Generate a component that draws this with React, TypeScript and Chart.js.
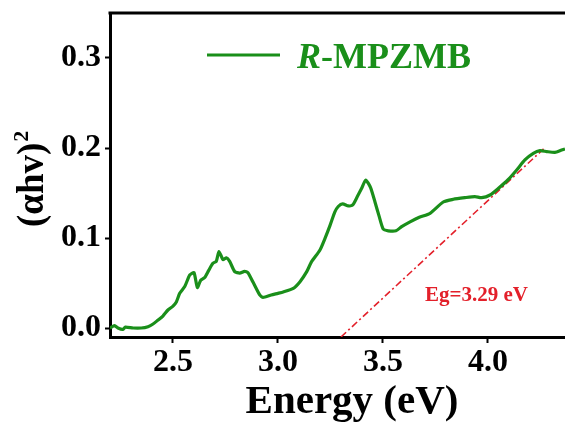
import React, { useEffect, useRef } from "react";
import { Chart, registerables } from "chart.js";

Chart.register(...registerables);

const energy = [
  2.2, 2.222, 2.238, 2.262, 2.273, 2.31, 2.349, 2.381, 2.405, 2.429,
  2.452, 2.476, 2.5, 2.516, 2.532, 2.556, 2.58, 2.6, 2.616, 2.632,
  2.651, 2.67, 2.69, 2.706, 2.719, 2.738, 2.754, 2.77, 2.794, 2.818,
  2.841, 2.857, 2.881, 2.913, 2.929, 2.968, 3.0, 3.025, 3.073, 3.105,
  3.137, 3.16, 3.2, 3.224, 3.248, 3.271, 3.287, 3.308, 3.335, 3.356,
  3.378, 3.398, 3.418, 3.441, 3.462, 3.482, 3.501, 3.525, 3.562, 3.589,
  3.629, 3.673, 3.724, 3.787, 3.835, 3.89, 3.938, 3.97, 4.01, 4.049,
  4.097, 4.137, 4.176, 4.216, 4.248, 4.28, 4.319, 4.351, 4.367,
];
const absorb = [
  0.0, 0.0026, 0.0, -0.0015, 0.001, 0.0, 0.0, 0.0015, 0.0044, 0.0089,
  0.0133, 0.02, 0.0244, 0.029, 0.0385, 0.046, 0.059, 0.0615, 0.045, 0.053,
  0.056, 0.064, 0.072, 0.074, 0.085, 0.076, 0.078, 0.074, 0.0626, 0.061,
  0.063, 0.0615, 0.051, 0.0367, 0.034, 0.0367, 0.0385, 0.04, 0.044, 0.0515,
  0.0626, 0.0737, 0.0867, 0.0996, 0.114, 0.129, 0.135, 0.138, 0.1356, 0.1367,
  0.146, 0.155, 0.1644, 0.156, 0.14, 0.124, 0.11, 0.108, 0.108, 0.1126,
  0.118, 0.123, 0.1274, 0.14, 0.143, 0.1448, 0.146, 0.1448, 0.1478, 0.155,
  0.165, 0.1756, 0.1867, 0.194, 0.197, 0.196, 0.1952, 0.1978, 0.199,
];
const fitEnergy = [3.3, 4.265];
const fitValue = [-0.01, 0.199];

const xTicks = [2.5, 3.0, 3.5, 4.0];
const yTicks = [0.0, 0.1, 0.2, 0.3];
const seriesName = ["R", "-MPZMB"];
const egLabel = "Eg=3.29 eV";
const egPos = [3.945, 0.036];
const xTitle = "Energy (eV)";
const yTitle = ["(αhv)", "2"];

const GREEN = "#1a8f1a";
const RED = "#e3202a";
const FONT = "'Liberation Serif', 'Times New Roman', serif";

export default function App() {
  const ref = useRef<HTMLCanvasElement | null>(null);
  useEffect(() => {
    if (!ref.current) return;
    const framePlugin = {
      id: "frame",
      afterDraw(chart: any) {
        const { ctx, chartArea } = chart;
        const { left, top, right, bottom } = chartArea;
        ctx.save();
        ctx.strokeStyle = "#000";
        ctx.lineWidth = 3;
        ctx.beginPath();
        ctx.moveTo(left - 1.5, top);
        ctx.lineTo(right, top);
        ctx.stroke();
        // legend
        const ly = top + 42;
        ctx.strokeStyle = GREEN;
        ctx.lineWidth = 3;
        ctx.beginPath();
        ctx.moveTo(left + 97, ly);
        ctx.lineTo(left + 170, ly);
        ctx.stroke();
        ctx.fillStyle = GREEN;
        ctx.textBaseline = "alphabetic";
        ctx.textAlign = "left";
        ctx.font = `italic bold 36px ${FONT}`;
        const tx = left + 187;
        ctx.fillText(seriesName[0], tx, ly + 13);
        const w = ctx.measureText(seriesName[0]).width;
        ctx.font = `bold 36px ${FONT}`;
        ctx.fillText(seriesName[1], tx + w, ly + 13);
        // Eg label
        const xs = chart.scales.x;
        const ys = chart.scales.y;
        ctx.fillStyle = RED;
        ctx.textAlign = "center";
        ctx.textBaseline = "middle";
        ctx.font = `bold 21px ${FONT}`;
        ctx.fillText(egLabel, xs.getPixelForValue(egPos[0]), ys.getPixelForValue(egPos[1]));
        // x title
        ctx.fillStyle = "#000";
        ctx.textAlign = "center";
        ctx.textBaseline = "alphabetic";
        ctx.font = `bold 41px ${FONT}`;
        ctx.fillText(xTitle, left + 242, bottom + 76);
        // y title
        ctx.save();
        ctx.translate(left - 67, (top + bottom) / 2 + 52);
        ctx.rotate(-Math.PI / 2);
        ctx.textAlign = "left";
        ctx.font = `bold 37px ${FONT}`;
        ctx.fillText(yTitle[0], 0, 0);
        const tw = ctx.measureText(yTitle[0]).width;
        ctx.font = `bold 22px ${FONT}`;
        ctx.fillText(yTitle[1], tw + 1, -15);
        ctx.restore();
        ctx.restore();
      },
    };
    const chart = new Chart(ref.current, {
      type: "line",
      data: {
        datasets: [
          {
            label: "R-MPZMB",
            data: energy.map((e, i) => ({ x: e, y: absorb[i] })),
            borderColor: GREEN,
            borderWidth: 3.2,
            pointRadius: 0,
            tension: 0.2,
            fill: false,
          },
          {
            label: "fit",
            data: fitEnergy.map((e, i) => ({ x: e, y: fitValue[i] })),
            borderColor: RED,
            borderWidth: 1.6,
            borderDash: [7, 3, 2, 3],
            pointRadius: 0,
            fill: false,
          },
        ],
      },
      options: {
        animation: false,
        responsive: false,
        maintainAspectRatio: false,
        layout: { padding: { top: 13, right: 0, left: 0, bottom: 0 } },
        plugins: { legend: { display: false }, tooltip: { enabled: false } },
        scales: {
          x: {
            type: "linear",
            min: 2.2,
            max: 4.367,
            afterFit: (s: any) => {
              s.height = 89;
              s.paddingLeft = 0;
              s.paddingRight = 0;
            },
            afterBuildTicks: (s: any) => {
              s.ticks = xTicks.map((v) => ({ value: v }));
            },
            ticks: {
              color: "#000",
              font: { family: FONT, weight: "bold", size: 32 },
              padding: 1,
              maxRotation: 0,
              callback: (v: any) => Number(v).toFixed(1),
            },
            grid: {
              display: true,
              drawOnChartArea: false,
              drawTicks: true,
              tickLength: 6,
              tickWidth: 2,
              tickColor: "#000",
            },
            border: { display: true, color: "#000", width: 3 },
          },
          y: {
            type: "linear",
            min: -0.01,
            max: 0.35,
            afterFit: (s: any) => {
              s.width = 110;
              s.paddingTop = 0;
              s.paddingBottom = 0;
            },
            afterBuildTicks: (s: any) => {
              s.ticks = yTicks.map((v) => ({ value: v }));
            },
            ticks: {
              color: "#000",
              font: { family: FONT, weight: "bold", size: 32 },
              padding: 4,
              callback: (v: any) => Number(v).toFixed(1),
            },
            grid: {
              display: true,
              drawOnChartArea: false,
              drawTicks: true,
              tickLength: 5,
              tickWidth: 2,
              tickColor: "#000",
            },
            border: { display: true, color: "#000", width: 3 },
          },
        },
      },
      plugins: [framePlugin],
    });
    return () => chart.destroy();
  }, []);
  return (
    <div style={{ position: "fixed", left: 0, top: 0, width: 565, height: 426, background: "#fff" }}>
      <canvas ref={ref} width={565} height={426} style={{ width: 565, height: 426, display: "block" }} />
    </div>
  );
}
